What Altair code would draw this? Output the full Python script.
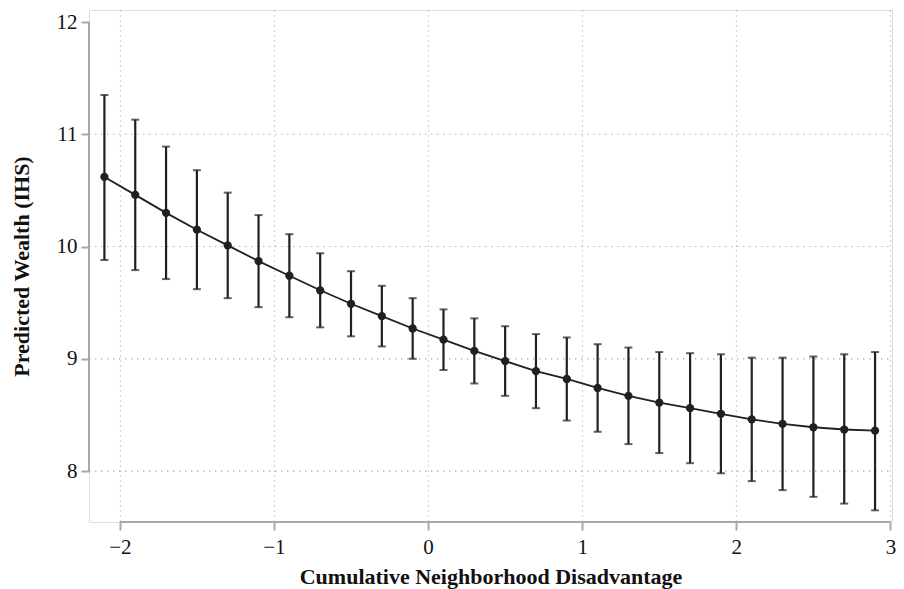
import altair as alt
import pandas as pd

# ---- data ----
disadvantage = [-2.1, -1.9, -1.7, -1.5, -1.3, -1.1, -0.9, -0.7, -0.5, -0.3, -0.1,
                0.1, 0.3, 0.5, 0.7, 0.9, 1.1, 1.3, 1.5, 1.7, 1.9, 2.1, 2.3, 2.5, 2.7, 2.9]
predicted = [10.62, 10.46, 10.30, 10.15, 10.01, 9.87, 9.74, 9.61, 9.49, 9.38, 9.27,
             9.17, 9.07, 8.98, 8.89, 8.82, 8.74, 8.67, 8.61, 8.56, 8.51, 8.46, 8.42, 8.39, 8.37, 8.36]
upper = [11.35, 11.13, 10.89, 10.68, 10.48, 10.28, 10.11, 9.94, 9.78, 9.65, 9.54,
         9.44, 9.36, 9.29, 9.22, 9.19, 9.13, 9.10, 9.06, 9.05, 9.04, 9.01, 9.01, 9.02, 9.04, 9.06]
lower = [9.88, 9.79, 9.71, 9.62, 9.54, 9.46, 9.37, 9.28, 9.20, 9.11, 9.00,
         8.90, 8.78, 8.67, 8.56, 8.45, 8.35, 8.24, 8.16, 8.07, 7.98, 7.91, 7.83, 7.77, 7.71, 7.65]

x_ticks = [-2, -1, 0, 1, 2, 3]
y_ticks = [8, 9, 10, 11, 12]
y_grid = [8, 9, 10, 11]
x_domain = [-2.2, 3.01]
y_domain = [7.546, 12.107]

df = pd.DataFrame({"x": disadvantage, "y": predicted, "hi": upper, "lo": lower})
grid_df = pd.DataFrame({"g": y_grid})

FONT = "Liberation Serif"
INK = "#231f20"
AXIS_GRAY = "#a8a8a8"
GRID_GRAY = "#b0b0b0"

xscale = alt.Scale(domain=x_domain, nice=False, zero=False)
yscale = alt.Scale(domain=y_domain, nice=False, zero=False)

x_enc = alt.X(
    "x:Q", scale=xscale,
    title="Cumulative Neighborhood Disadvantage",
    axis=alt.Axis(values=x_ticks, grid=True, gridDash=[1, 4], gridColor=GRID_GRAY,
                  gridWidth=1.2, domain=False, tickColor=AXIS_GRAY, tickSize=8, tickWidth=2,
                  labelFont=FONT, labelFontSize=21, labelColor="#111", labelPadding=6,
                  titleFont=FONT, titleFontSize=22, titleFontWeight="bold", titleColor="#111",
                  titlePadding=9, format="d"),
)
y_enc = alt.Y(
    "y:Q", scale=yscale,
    title="Predicted Wealth (IHS)",
    axis=alt.Axis(values=y_ticks, grid=False, domain=False, tickColor=AXIS_GRAY,
                  tickSize=8, tickWidth=2, labelFont=FONT, labelFontSize=21,
                  labelColor="#111", labelPadding=4,
                  titleFont=FONT, titleFontSize=22, titleFontWeight="bold", titleColor="#111",
                  titleX=-56, format="d"),
)

base = alt.Chart(df)

hgrid = alt.Chart(grid_df).mark_rule(color=GRID_GRAY, strokeDash=[1.5, 4.5], strokeWidth=1.2).encode(
    y=alt.Y("g:Q", scale=yscale),
    x=alt.value(0),
    x2=alt.value("width"),
)

y_axis_line = alt.Chart(pd.DataFrame({"a": [y_ticks[0]], "b": [y_ticks[-1]]})).mark_rule(
    color=AXIS_GRAY, strokeWidth=2).encode(
    y=alt.Y("a:Q", scale=yscale), y2="b:Q", x=alt.value(0))

x_axis_line = alt.Chart(pd.DataFrame({"a": [x_ticks[0]], "b": [x_ticks[-1]]})).mark_rule(
    color=AXIS_GRAY, strokeWidth=2).encode(
    x=alt.X("a:Q", scale=xscale), x2="b:Q", y=alt.value("height"))

bars = base.mark_rule(color=INK, strokeWidth=2.2).encode(
    x=x_enc, y=alt.Y("lo:Q", scale=yscale), y2="hi:Q")

cap_hi = base.mark_tick(color=INK, orient="horizontal", size=8, thickness=2).encode(
    x=alt.X("x:Q", scale=xscale), y=alt.Y("hi:Q", scale=yscale))
cap_lo = base.mark_tick(color=INK, orient="horizontal", size=8, thickness=2).encode(
    x=alt.X("x:Q", scale=xscale), y=alt.Y("lo:Q", scale=yscale))

line = base.mark_line(color=INK, strokeWidth=1.8).encode(
    x=alt.X("x:Q", scale=xscale), y=y_enc)

points = base.mark_circle(color=INK, size=68, opacity=1).encode(
    x=alt.X("x:Q", scale=xscale), y=alt.Y("y:Q", scale=yscale))

chart = alt.layer(hgrid, y_axis_line, x_axis_line, bars, cap_hi, cap_lo, line, points).properties(
    width=803, height=512,
    autosize=alt.AutoSizeParams(type="none"),
    padding={"left": 81, "top": 2, "right": 4, "bottom": 72},
).configure_view(stroke=None).configure(background="white")

chart.save("out.html", embed_options={"renderer": "svg", "actions": False})
